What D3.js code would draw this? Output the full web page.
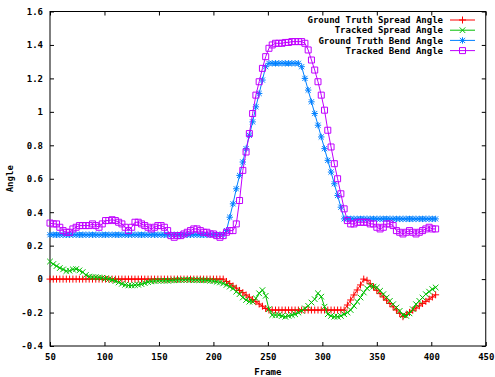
<!DOCTYPE html>
<html>
<head>
<meta charset="utf-8">
<script src="https://cdn.jsdelivr.net/npm/d3@7"></script>
<style>
  body { margin: 0; background: #fff; }
  text { font-family: "DejaVu Sans Mono", monospace; font-size: 9px; font-weight: bold; fill: #000; }
</style>
</head>
<body>
<div id="chart"></div>
<script>
// frame numbers (every 3rd frame)
const frames = [
  50, 53, 56, 59, 62, 65, 68, 71, 74, 77,
  80, 83, 86, 89, 92, 95, 98, 101, 104, 107,
  110, 113, 116, 119, 122, 125, 128, 131, 134, 137,
  140, 143, 146, 149, 152, 155, 158, 161, 164, 167,
  170, 173, 176, 179, 182, 185, 188, 191, 194, 197,
  200, 203, 206, 209, 212, 215, 218, 221, 224, 227,
  230, 233, 236, 239, 242, 245, 248, 251, 254, 257,
  260, 263, 266, 269, 272, 275, 278, 281, 284, 287,
  290, 293, 296, 299, 302, 305, 308, 311, 314, 317,
  320, 323, 326, 329, 332, 335, 338, 341, 344, 347,
  350, 353, 356, 359, 362, 365, 368, 371, 374, 377,
  380, 383, 386, 389, 392, 395, 398, 401, 404
];

const gtSpread = [
  0, 0, 0, 0, 0, 0, 0, 0, 0, 0,
  0, 0, 0, 0, 0, 0, 0, 0, 0, 0,
  0, 0, 0, 0, 0, 0, 0, 0, 0, 0,
  0, 0, 0, 0, 0, 0, 0, 0, 0, 0,
  0, 0, 0, 0, 0, 0, 0, 0, 0, 0,
  0, 0, 0, 0, -0.014, -0.027, -0.041, -0.054, -0.068, -0.081,
  -0.095, -0.108, -0.122, -0.135, -0.149, -0.162, -0.176, -0.185, -0.185, -0.185,
  -0.185, -0.185, -0.185, -0.185, -0.185, -0.185, -0.185, -0.185, -0.185, -0.185,
  -0.185, -0.185, -0.185, -0.185, -0.185, -0.185, -0.185, -0.185, -0.185, -0.185,
  -0.185, -0.155, -0.125, -0.095, -0.065, -0.035, 0.0, -0.007, -0.028, -0.047,
  -0.067, -0.087, -0.107, -0.126, -0.146, -0.166, -0.185, -0.205, -0.225, -0.212,
  -0.199, -0.186, -0.173, -0.16, -0.146, -0.133, -0.12, -0.107, -0.094
];

const trSpread = [
  0.105, 0.09, 0.078, 0.066, 0.058, 0.048, 0.05, 0.058, 0.06, 0.052,
  0.042, 0.025, 0.015, 0.012, 0.012, 0.01, 0.008, 0.004, 0.0, -0.005,
  -0.012, -0.02, -0.028, -0.034, -0.038, -0.038, -0.036, -0.034, -0.03, -0.024,
  -0.018, -0.014, -0.012, -0.01, -0.01, -0.01, -0.01, -0.008, -0.007, -0.006,
  -0.005, -0.005, -0.004, -0.005, -0.006, -0.006, -0.006, -0.007, -0.008, -0.01,
  -0.012, -0.016, -0.02, -0.026, -0.035, -0.045, -0.056, -0.075, -0.09, -0.11,
  -0.125, -0.135, -0.135, -0.115, -0.085, -0.066, -0.1, -0.18, -0.215, -0.215,
  -0.215, -0.22, -0.225, -0.22, -0.215, -0.21, -0.2, -0.19, -0.175, -0.16,
  -0.14, -0.12, -0.085, -0.105, -0.165, -0.21, -0.22, -0.225, -0.225, -0.22,
  -0.21, -0.2, -0.185, -0.16, -0.135, -0.11, -0.08, -0.055, -0.04, -0.045,
  -0.05, -0.07, -0.09, -0.11, -0.13, -0.15, -0.17, -0.19, -0.215, -0.22,
  -0.205, -0.18, -0.15, -0.13, -0.11, -0.09, -0.075, -0.06, -0.05
];

const gtBend = [
  0.265, 0.265, 0.265, 0.265, 0.265, 0.265, 0.265, 0.265, 0.265, 0.265,
  0.265, 0.265, 0.265, 0.265, 0.265, 0.265, 0.265, 0.265, 0.265, 0.265,
  0.265, 0.265, 0.265, 0.265, 0.265, 0.265, 0.265, 0.265, 0.265, 0.265,
  0.265, 0.265, 0.265, 0.265, 0.265, 0.265, 0.265, 0.265, 0.265, 0.265,
  0.265, 0.265, 0.265, 0.265, 0.265, 0.265, 0.265, 0.265, 0.265, 0.265,
  0.265, 0.265, 0.265, 0.265, 0.29, 0.37, 0.45, 0.54, 0.62, 0.70,
  0.78, 0.86, 0.94, 1.03, 1.11, 1.19, 1.27, 1.29, 1.29, 1.29,
  1.29, 1.29, 1.29, 1.29, 1.29, 1.29, 1.29, 1.27, 1.20, 1.13,
  1.06, 0.99, 0.92, 0.85, 0.78, 0.71, 0.64, 0.57, 0.50, 0.43,
  0.36, 0.36, 0.36, 0.36, 0.36, 0.36, 0.36, 0.36, 0.36, 0.36,
  0.36, 0.36, 0.36, 0.36, 0.36, 0.36, 0.36, 0.36, 0.36, 0.36,
  0.36, 0.36, 0.36, 0.36, 0.36, 0.36, 0.36, 0.36, 0.36
];

const trBend = [
  0.335, 0.33, 0.33, 0.31, 0.29, 0.28, 0.28, 0.3, 0.31, 0.32,
  0.32, 0.32, 0.32, 0.33, 0.32, 0.31, 0.33, 0.35, 0.35, 0.355,
  0.35, 0.34, 0.33, 0.31, 0.29, 0.31, 0.34, 0.34, 0.33, 0.32,
  0.31, 0.3, 0.31, 0.32, 0.32, 0.31, 0.29, 0.26, 0.25, 0.26,
  0.26, 0.27, 0.28, 0.29, 0.3, 0.3, 0.29, 0.28, 0.28, 0.27,
  0.27, 0.26, 0.25, 0.26, 0.28, 0.29, 0.29, 0.33, 0.47, 0.65,
  0.76, 0.87, 0.99, 1.1, 1.18, 1.26, 1.33, 1.38, 1.4, 1.41,
  1.41, 1.41, 1.415, 1.415, 1.42, 1.42, 1.42, 1.42, 1.41, 1.37,
  1.31, 1.25, 1.18, 1.1, 1.01, 0.89, 0.79, 0.69, 0.6, 0.51,
  0.42, 0.35, 0.33, 0.33, 0.34, 0.34, 0.34, 0.34, 0.33, 0.33,
  0.31, 0.3, 0.31, 0.33, 0.33, 0.32, 0.29, 0.28, 0.27, 0.28,
  0.29, 0.28, 0.27, 0.28, 0.29, 0.3, 0.31, 0.3, 0.3
];

const seriesNames = ["Ground Truth Spread Angle", "Tracked Spread Angle", "Ground Truth Bend Angle", "Tracked Bend Angle"];
const seriesColors = ["#ff0000", "#00c000", "#0080ff", "#c000ff"];
const seriesMarks = ["plus", "cross", "star", "square"];
const markSizes = [3.5, 3.5, 3.2, 3];

const xTicks = [50, 100, 150, 200, 250, 300, 350, 400, 450];
const yTicks = [-0.4, -0.2, 0, 0.2, 0.4, 0.6, 0.8, 1, 1.2, 1.4, 1.6];
const yTickLabels = ["-0.4", "-0.2", "0", "0.2", "0.4", "0.6", "0.8", "1", "1.2", "1.4", "1.6"];

const width = 495, height = 377;
const plot = { left: 50, right: 485.75, top: 11.5, bottom: 346 };

const svg = d3.select("#chart").append("svg")
  .attr("width", width)
  .attr("height", height);

const x = d3.scaleLinear().domain([50, 450]).range([plot.left, plot.right]);
const y = d3.scaleLinear().domain([-0.4, 1.6]).range([plot.bottom, plot.top]);

// axes with inward ticks (mirrored on top and right)
function styleAxis(g) {
  g.select(".domain").remove();
  g.selectAll(".tick line").attr("stroke", "#000");
  g.selectAll("text").attr("fill", "#000");
}

svg.append("g")
  .attr("transform", `translate(0,${plot.bottom})`)
  .call(d3.axisBottom(x).tickValues(xTicks).tickSize(-4).tickPadding(8).tickFormat(d3.format("d")))
  .call(styleAxis);

svg.append("g")
  .attr("transform", `translate(0,${plot.top})`)
  .call(d3.axisTop(x).tickValues(xTicks).tickSize(-4).tickFormat(""))
  .call(styleAxis);

svg.append("g")
  .attr("transform", `translate(${plot.left},0)`)
  .call(d3.axisLeft(y).tickValues(yTicks).tickSize(-4).tickPadding(7).tickFormat((d, i) => yTickLabels[i]))
  .call(styleAxis);

svg.append("g")
  .attr("transform", `translate(${plot.right},0)`)
  .call(d3.axisRight(y).tickValues(yTicks).tickSize(-4).tickFormat(""))
  .call(styleAxis);

svg.selectAll("g").attr("font-family", null).attr("font-size", null);

// border
svg.append("rect")
  .attr("x", plot.left).attr("y", plot.top)
  .attr("width", plot.right - plot.left).attr("height", plot.bottom - plot.top)
  .attr("fill", "none").attr("stroke", "#000").attr("stroke-width", 1);

// axis titles
svg.append("text")
  .attr("transform", `translate(13,${(plot.top + plot.bottom) / 2}) rotate(-90)`)
  .attr("text-anchor", "middle")
  .text("Angle");

svg.append("text")
  .attr("x", (plot.left + plot.right) / 2)
  .attr("y", 375)
  .attr("text-anchor", "middle")
  .text("Frame");

// marker shapes
function markPath(type, s) {
  const c = s * 0.8;
  if (type === "plus") return `M${-s},0H${s}M0,${-s}V${s}`;
  if (type === "cross") return `M${-c},${-c}L${c},${c}M${-c},${c}L${c},${-c}`;
  if (type === "star") return `M${-s},0H${s}M0,${-s}V${s}M${-c},${-c}L${c},${c}M${-c},${c}L${c},${-c}`;
  return `M${-s},${-s}H${s}V${s}H${-s}Z`;
}

const allSeries = [gtSpread, trSpread, gtBend, trBend].map((vals, i) => ({
  name: seriesNames[i],
  color: seriesColors[i],
  mark: seriesMarks[i],
  size: markSizes[i],
  points: frames.map((f, j) => ({ f: f, v: vals[j] }))
}));

const line = d3.line().x(d => x(d.f)).y(d => y(d.v));

allSeries.forEach(s => {
  const g = svg.append("g");
  g.append("path")
    .datum(s.points)
    .attr("d", line)
    .attr("fill", "none")
    .attr("stroke", s.color)
    .attr("stroke-width", 1);
  g.selectAll(".pt")
    .data(s.points)
    .enter()
    .append("path")
    .attr("transform", d => `translate(${x(d.f)},${y(d.v)})`)
    .attr("d", markPath(s.mark, s.size))
    .attr("fill", "none")
    .attr("stroke", s.color)
    .attr("stroke-width", 1);
});

// legend
const legend = svg.append("g");
allSeries.forEach((s, i) => {
  const ly = 20 + i * 10.2;
  legend.append("text")
    .attr("x", 443)
    .attr("y", ly)
    .attr("dy", "0.35em")
    .attr("text-anchor", "end")
    .text(s.name);
  legend.append("line")
    .attr("x1", 450).attr("x2", 475)
    .attr("y1", ly).attr("y2", ly)
    .attr("stroke", s.color);
  legend.append("path")
    .attr("transform", `translate(462.5,${ly})`)
    .attr("d", markPath(s.mark, s.size))
    .attr("fill", "none")
    .attr("stroke", s.color);
});
</script>
</body>
</html>
